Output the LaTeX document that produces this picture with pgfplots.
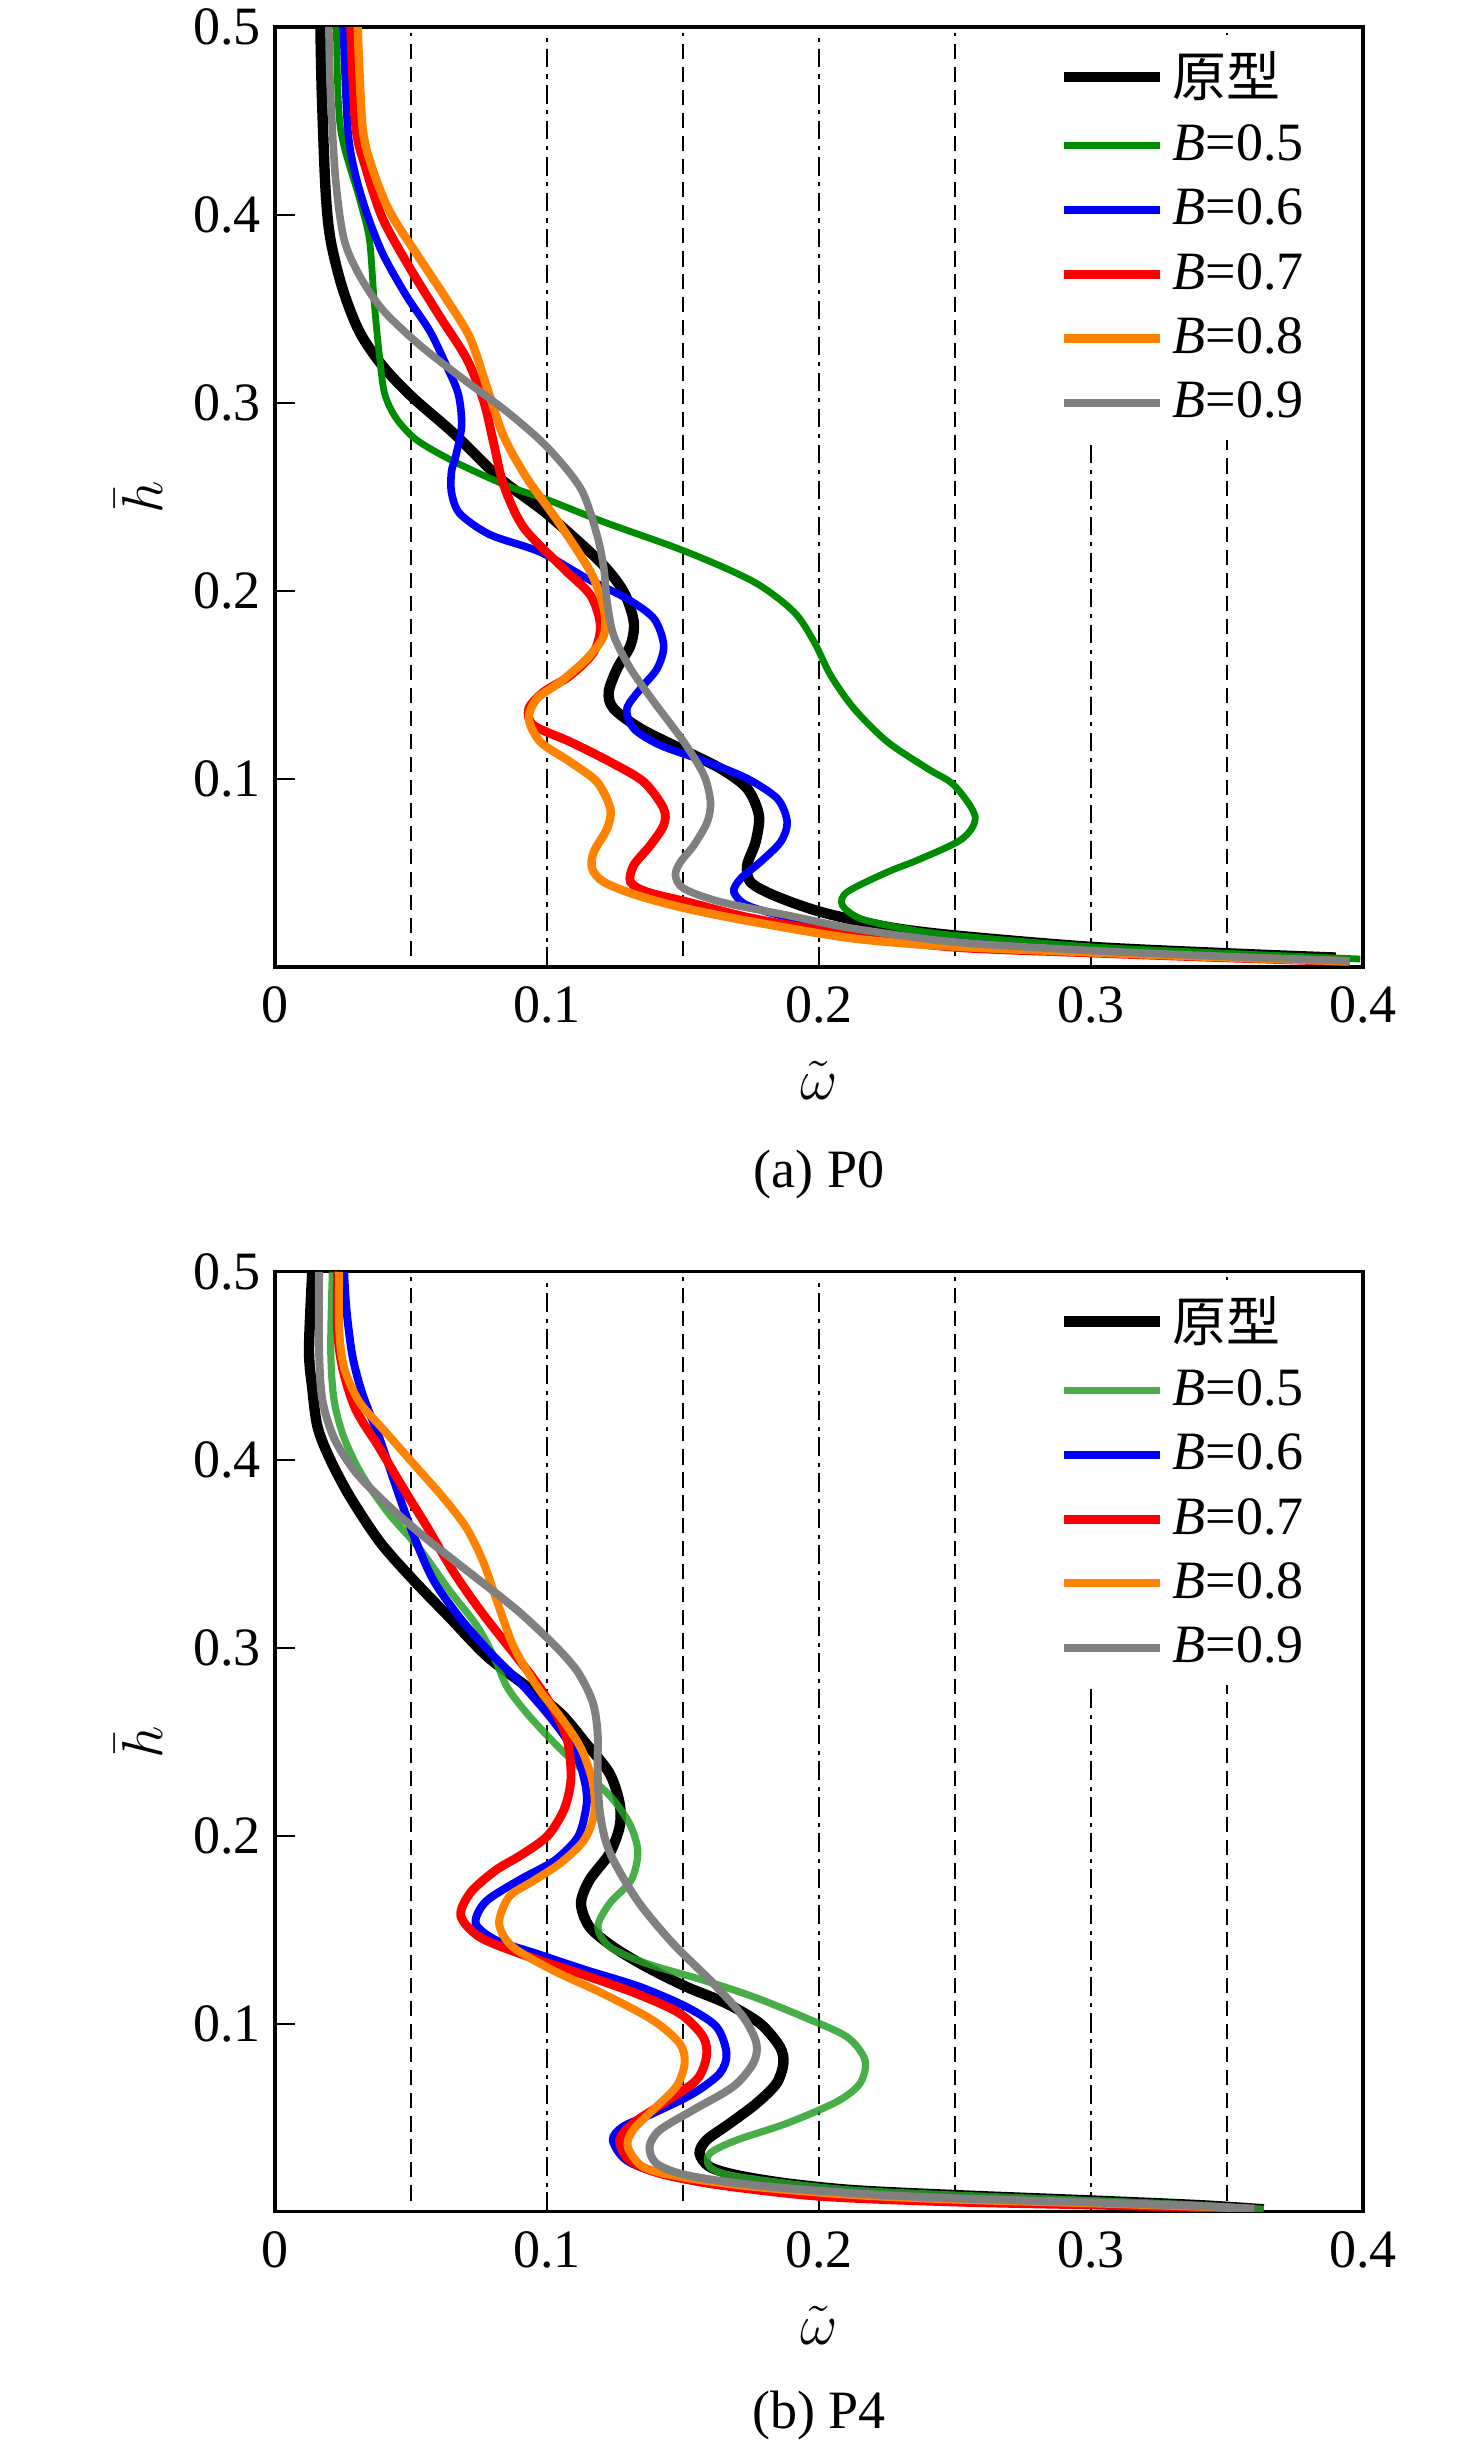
\documentclass[border=0pt]{standalone}
\usepackage{fontspec}
\setmainfont{Liberation Serif}
\newfontfamily\cjk{Noto Sans CJK SC}
\usepackage{pgfplots}
\pgfplotsset{compat=1.18}
\definecolor{cgreen}{RGB}{0,140,0}
\definecolor{cgreenb}{RGB}{40,160,40}
\definecolor{cblue}{RGB}{0,0,255}
\definecolor{cred}{RGB}{255,0,0}
\definecolor{corange}{RGB}{255,130,0}
\definecolor{cgray}{RGB}{128,128,128}
\newcommand{\fnt}{\fontsize{13.5}{15}\selectfont}
\newcommand{\vlines}{%
\addplot[forget plot, black, line width=0.6pt, dash pattern=on 3.75pt off 2pt] coordinates {(0.05,0.006) (0.05,0.497)};
\addplot[forget plot, black, line width=0.7pt, dash pattern=on 4.6pt off 1.7pt on 1pt off 1.7pt] coordinates {(0.1,0.0) (0.1,0.497)};
\addplot[forget plot, black, line width=0.6pt, dash pattern=on 3.75pt off 2pt] coordinates {(0.15,0.006) (0.15,0.497)};
\addplot[forget plot, black, line width=0.7pt, dash pattern=on 4.6pt off 1.7pt on 1pt off 1.7pt] coordinates {(0.2,0.0) (0.2,0.497)};
\addplot[forget plot, black, line width=0.6pt, dash pattern=on 3.75pt off 2pt] coordinates {(0.25,0.006) (0.25,0.497)};
\addplot[forget plot, black, line width=0.7pt, dash pattern=on 4.6pt off 1.7pt on 1pt off 1.7pt] coordinates {(0.3,0.0) (0.3,0.497)};
\addplot[forget plot, black, line width=0.6pt, dash pattern=on 3.75pt off 2pt] coordinates {(0.35,0.006) (0.35,0.497)};
}
\pgfplotsset{
  myax/.style={
    scale only axis, width=272pt, height=235pt,
    xmin=0, xmax=0.4, ymin=0, ymax=0.5,
    xtick={0,0.1,0.2,0.3,0.4}, ytick={0.1,0.2,0.3,0.4,0.5},
    xtick pos=left, ytick pos=left,
    tick align=inside, major tick length=5pt,
    tick style={black, line width=0.6pt},
    axis line style={black, line width=0.8pt},
    /pgf/number format/assume math mode=true,
    tick label style={font=\fnt},
    xticklabel style={yshift=-1.5pt},
    label style={font=\fnt},
    xlabel={$\tilde{\omega}$},
    ylabel={$\bar{h}$},
    xlabel style={at={(axis description cs:0.5,-0.121)}, anchor=center},
    ylabel style={at={(axis description cs:-0.125,0.5)}, anchor=center},
    legend cell align=left,
    legend style={at={(0.712,0.992)}, anchor=north west, draw=none, fill=white,
      font=\fnt, row sep=1.6pt, inner xsep=2pt, inner ysep=2pt},
    legend image code/.code={\draw[##1] (0pt,0pt) -- (24pt,0pt);},
    every axis plot/.append style={smooth, tension=0.5},
    clip=true,
  }
}
\begin{document}
\begin{tikzpicture}
\path[use as bounding box] (0,0) rectangle (369pt,612.25pt);
% ---------------- (a) P0 ----------------
\begin{axis}[myax, name=a, at={(68.75pt,605.5pt)}, anchor=north west]
\vlines
\addplot[black, line width=2.6pt] coordinates {(0.0167,0.5) (0.0172,0.465) (0.0186,0.413) (0.0204,0.387) (0.0248,0.361) (0.031,0.338) (0.0396,0.3196) (0.0507,0.3028) (0.0656,0.284) (0.0828,0.2598) (0.1,0.241) (0.1196,0.2154) (0.1282,0.1995) (0.1319,0.1835) (0.1307,0.1711) (0.1258,0.1587) (0.1227,0.1463) (0.1245,0.1374) (0.1344,0.1268) (0.1491,0.1161) (0.1638,0.1055) (0.1736,0.0949) (0.1779,0.0807) (0.1767,0.0665) (0.1736,0.0541) (0.1748,0.0452) (0.1834,0.0381) (0.2006,0.0293) (0.2252,0.0213) (0.2497,0.0168) (0.299,0.0108) (0.351,0.0072) (0.39,0.005)};
\addlegendentry{{\cjk 原型}}
\addplot[cgreen, line width=1.7pt] coordinates {(0.0226,0.5) (0.024,0.4467) (0.031,0.409) (0.0347,0.387) (0.0365,0.353) (0.0384,0.325) (0.0403,0.305) (0.0445,0.292) (0.052,0.2804) (0.0656,0.269) (0.0853,0.256) (0.1,0.2486) (0.1209,0.2367) (0.1515,0.2207) (0.1761,0.2048) (0.1908,0.1888) (0.1982,0.1729) (0.2043,0.1551) (0.2129,0.1374) (0.2252,0.1197) (0.2399,0.1055) (0.2497,0.0966) (0.2574,0.08) (0.2525,0.068) (0.2365,0.057) (0.2252,0.0505) (0.2104,0.0399) (0.2086,0.0328) (0.2153,0.0257) (0.2313,0.0204) (0.2497,0.0168) (0.299,0.0108) (0.351,0.0072) (0.399,0.0042)};
\addlegendentry{\textit{B}=0.5}
\addplot[cblue, line width=1.9pt] coordinates {(0.0251,0.5) (0.0267,0.4467) (0.0291,0.4243) (0.0335,0.4019) (0.0396,0.3794) (0.0483,0.357) (0.0569,0.3383) (0.0631,0.3196) (0.0674,0.3047) (0.0686,0.288) (0.0665,0.272) (0.0649,0.2636) (0.0649,0.2523) (0.068,0.2411) (0.0791,0.2299) (0.0977,0.2206) (0.1147,0.2066) (0.1294,0.1959) (0.1393,0.1853) (0.1429,0.1711) (0.1405,0.1587) (0.1344,0.148) (0.1294,0.1374) (0.1319,0.1268) (0.1417,0.1179) (0.1589,0.109) (0.1736,0.1002) (0.1847,0.0895) (0.1883,0.0771) (0.1859,0.0665) (0.1785,0.0559) (0.1712,0.047) (0.1687,0.0399) (0.1736,0.0328) (0.1883,0.0266) (0.2129,0.0195) (0.2497,0.0133) (0.299,0.0085) (0.351,0.0052) (0.395,0.003)};
\addlegendentry{\textit{B}=0.6}
\addplot[cred, line width=2.2pt] coordinates {(0.0278,0.5) (0.0297,0.4467) (0.0335,0.4243) (0.0396,0.398) (0.0495,0.372) (0.0606,0.346) (0.0705,0.3234) (0.0767,0.301) (0.0804,0.2785) (0.0841,0.2561) (0.0915,0.2336) (0.1061,0.2119) (0.116,0.1977) (0.1196,0.1817) (0.1172,0.1676) (0.1086,0.1551) (0.0988,0.1463) (0.0933,0.1374) (0.0951,0.1285) (0.1086,0.1197) (0.1233,0.109) (0.1356,0.0984) (0.1429,0.0842) (0.1429,0.0754) (0.138,0.0647) (0.1319,0.0541) (0.1307,0.0452) (0.1368,0.0399) (0.1515,0.0346) (0.1761,0.0257) (0.2129,0.0168) (0.2497,0.0105) (0.299,0.0075) (0.351,0.0048) (0.395,0.0028)};
\addlegendentry{\textit{B}=0.7}
\addplot[corange, line width=2.1pt] coordinates {(0.0304,0.5) (0.0322,0.4467) (0.0359,0.4243) (0.0421,0.402) (0.052,0.3794) (0.0631,0.3551) (0.0717,0.3346) (0.0779,0.3084) (0.0841,0.2822) (0.0927,0.2598) (0.1038,0.2374) (0.116,0.2101) (0.1209,0.1906) (0.1209,0.1764) (0.1147,0.164) (0.1049,0.1516) (0.0963,0.1427) (0.0933,0.1321) (0.0976,0.1197) (0.1086,0.109) (0.1184,0.0984) (0.1233,0.0842) (0.1221,0.0736) (0.1172,0.0612) (0.1166,0.0523) (0.1209,0.0452) (0.1331,0.0381) (0.1515,0.031) (0.1761,0.0239) (0.2129,0.0151) (0.2497,0.0108) (0.299,0.0078) (0.351,0.005) (0.395,0.003)};
\addlegendentry{\textit{B}=0.8}
\addplot[cgray, line width=1.9pt] coordinates {(0.0198,0.5) (0.0204,0.4654) (0.0223,0.4187) (0.0254,0.387) (0.031,0.368) (0.0396,0.3495) (0.0532,0.3308) (0.068,0.314) (0.0853,0.2953) (0.1,0.2766) (0.1125,0.2542) (0.1184,0.2296) (0.1209,0.2119) (0.1221,0.1941) (0.1245,0.1764) (0.1307,0.1587) (0.1393,0.141) (0.1503,0.1197) (0.1577,0.102) (0.1601,0.0878) (0.1589,0.0771) (0.154,0.0647) (0.1491,0.0559) (0.1472,0.0488) (0.1503,0.0417) (0.1638,0.0346) (0.1883,0.0275) (0.2129,0.0204) (0.2497,0.0133) (0.299,0.0088) (0.351,0.0055) (0.395,0.0032)};
\addlegendentry{\textit{B}=0.9}
\end{axis}
\node[font=\fnt, anchor=center] at ([yshift=-52pt]a.south) {(a) P0};
% ---------------- (b) P4 ----------------
\begin{axis}[myax, name=b, at={(68.75pt,294.3pt)}, anchor=north west]
\vlines
\addplot[black, line width=2.6pt] coordinates {(0.0137,0.5) (0.0125,0.4585) (0.0137,0.438) (0.0156,0.4177) (0.0199,0.4014) (0.0273,0.381) (0.0384,0.3566) (0.0507,0.3363) (0.0643,0.3159) (0.0779,0.2955) (0.0927,0.2792) (0.1051,0.265) (0.1144,0.249) (0.123,0.2332) (0.1267,0.2172) (0.1267,0.2048) (0.123,0.1906) (0.1156,0.1764) (0.1125,0.164) (0.1156,0.1516) (0.1242,0.141) (0.1365,0.1303) (0.1512,0.1197) (0.166,0.1108) (0.1783,0.1002) (0.1856,0.0878) (0.1869,0.0789) (0.1844,0.0683) (0.177,0.0576) (0.1672,0.047) (0.1586,0.0381) (0.1561,0.031) (0.1598,0.0239) (0.1697,0.0195) (0.1881,0.0151) (0.2127,0.0115) (0.2495,0.0089) (0.3,0.006) (0.34,0.0035) (0.3635,0.0013)};
\addlegendentry{{\cjk 原型}}
\addplot[cgreenb, opacity=0.85, line width=1.8pt] coordinates {(0.0211,0.5) (0.0205,0.4585) (0.0217,0.432) (0.0254,0.4116) (0.0322,0.3913) (0.0421,0.3709) (0.0532,0.3526) (0.0643,0.3302) (0.0742,0.3118) (0.0804,0.2955) (0.0853,0.2792) (0.0927,0.265) (0.1026,0.2495) (0.1137,0.234) (0.1236,0.2205) (0.1305,0.206) (0.1334,0.1915) (0.131,0.1765) (0.123,0.164) (0.1187,0.1516) (0.123,0.141) (0.1365,0.1321) (0.1574,0.1232) (0.1758,0.1144) (0.1942,0.1037) (0.2102,0.0931) (0.2169,0.0807) (0.2151,0.0683) (0.2065,0.0585) (0.1881,0.047) (0.1697,0.0381) (0.1598,0.031) (0.1598,0.0239) (0.1672,0.0195) (0.1881,0.0151) (0.2127,0.0115) (0.2495,0.0089) (0.3,0.006) (0.34,0.0035) (0.3635,0.0013)};
\addlegendentry{\textit{B}=0.5}
\addplot[cblue, line width=2.0pt] coordinates {(0.0254,0.5) (0.0263,0.4796) (0.0285,0.455) (0.0322,0.4348) (0.0384,0.4116) (0.0446,0.3852) (0.0507,0.3607) (0.0581,0.3363) (0.068,0.3159) (0.0791,0.2975) (0.0903,0.2812) (0.1001,0.265) (0.1075,0.2507) (0.1125,0.2365) (0.1147,0.2202) (0.1131,0.206) (0.1105,0.1975) (0.1025,0.1865) (0.0898,0.1764) (0.0775,0.165) (0.0738,0.1534) (0.0812,0.1445) (0.0959,0.1374) (0.1144,0.1285) (0.134,0.1197) (0.1512,0.109) (0.1623,0.0984) (0.166,0.0842) (0.1635,0.0736) (0.1537,0.0629) (0.1389,0.0523) (0.1279,0.0452) (0.1242,0.0381) (0.1291,0.0275) (0.1414,0.0204) (0.1635,0.0142) (0.2004,0.0089) (0.2495,0.0058) (0.3,0.0042) (0.34,0.0026) (0.36,0.0014)};
\addlegendentry{\textit{B}=0.6}
\addplot[cred, line width=2.2pt] coordinates {(0.023,0.5) (0.023,0.4694) (0.0248,0.449) (0.0297,0.4267) (0.0384,0.4063) (0.047,0.3852) (0.0557,0.3648) (0.0656,0.3404) (0.0754,0.32) (0.0853,0.3016) (0.0952,0.2833) (0.1026,0.2669) (0.1075,0.2507) (0.1088,0.2303) (0.1063,0.2141) (0.1001,0.1998) (0.0903,0.1896) (0.0812,0.1817) (0.072,0.17) (0.0683,0.1575) (0.0751,0.1463) (0.0898,0.1374) (0.1119,0.1268) (0.1328,0.1161) (0.1488,0.1055) (0.1574,0.0931) (0.1586,0.0824) (0.1549,0.07) (0.1426,0.0576) (0.1316,0.047) (0.1267,0.0381) (0.1303,0.0275) (0.1414,0.0204) (0.1635,0.0142) (0.2004,0.0082) (0.2495,0.0052) (0.3,0.0036) (0.34,0.0022) (0.36,0.0012)};
\addlegendentry{\textit{B}=0.7}
\addplot[corange, line width=2.0pt] coordinates {(0.0236,0.5) (0.0236,0.4694) (0.0254,0.449) (0.031,0.4308) (0.0396,0.4165) (0.0507,0.3982) (0.0619,0.3798) (0.0705,0.3635) (0.0767,0.3452) (0.0816,0.3248) (0.0878,0.3004) (0.0964,0.2792) (0.1051,0.2629) (0.1125,0.2466) (0.1168,0.2283) (0.1174,0.2121) (0.1137,0.1978) (0.1051,0.1856) (0.095,0.176) (0.0861,0.1676) (0.0824,0.1534) (0.0873,0.141) (0.1021,0.1285) (0.1205,0.1161) (0.1389,0.1019) (0.1488,0.0895) (0.1506,0.0789) (0.1475,0.0665) (0.1389,0.0541) (0.1316,0.0434) (0.1297,0.0346) (0.1353,0.0239) (0.1488,0.0186) (0.1758,0.0133) (0.2127,0.0089) (0.2495,0.0065) (0.3,0.0045) (0.34,0.0027) (0.36,0.0015)};
\addlegendentry{\textit{B}=0.8}
\addplot[cgray, line width=2.0pt] coordinates {(0.0162,0.5) (0.0162,0.4585) (0.0174,0.432) (0.0217,0.4116) (0.0297,0.3933) (0.0421,0.375) (0.0569,0.3566) (0.073,0.3383) (0.089,0.32) (0.1026,0.3016) (0.1112,0.2874) (0.1168,0.2711) (0.1186,0.2548) (0.1186,0.2344) (0.1193,0.2141) (0.1215,0.1975) (0.1255,0.184) (0.134,0.164) (0.1463,0.1427) (0.1611,0.1215) (0.1721,0.1037) (0.177,0.0895) (0.1758,0.0789) (0.1684,0.0665) (0.1537,0.0541) (0.1414,0.0434) (0.1377,0.0346) (0.1402,0.0257) (0.1512,0.0195) (0.1758,0.0142) (0.2127,0.0098) (0.2495,0.0072) (0.3,0.005) (0.34,0.003) (0.36,0.0016)};
\addlegendentry{\textit{B}=0.9}
\end{axis}
\node[font=\fnt, anchor=center] at ([yshift=-51pt]b.south) {(b) P4};
\end{tikzpicture}
\end{document}
